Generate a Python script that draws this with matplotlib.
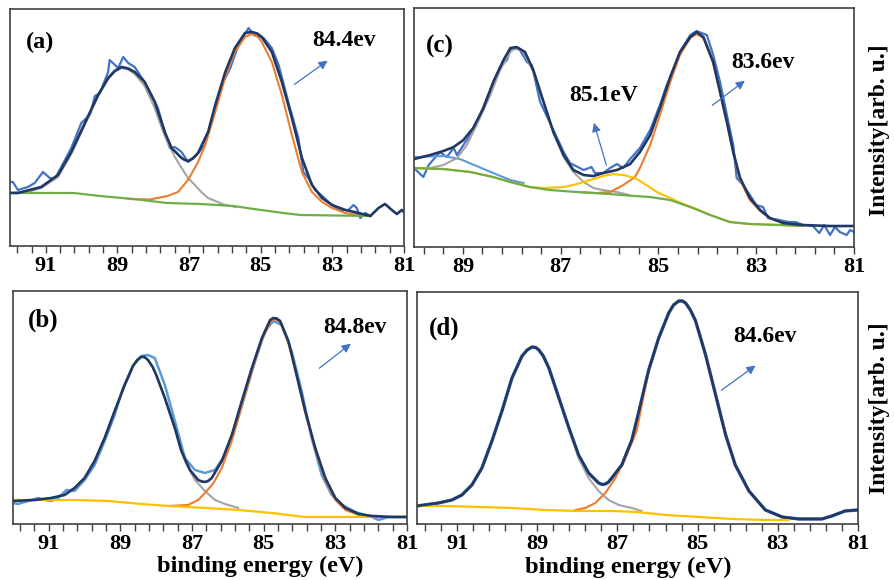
import numpy as np
import matplotlib
matplotlib.use('Agg')
import matplotlib.pyplot as plt

plt.rcParams['font.family'] = ['Liberation Serif', 'DejaVu Serif']
plt.rcParams['font.weight'] = 'bold'
plt.rcParams['lines.solid_joinstyle'] = 'round'

#cores (paleta do excel)
navy = '#1f3864'
raw_blue = '#4472c4'
light_blue = '#5b9bd5'
gray = '#a5a5a5'
orange = '#ed7d31'
green = '#70ad47'
yellow = '#ffc000'

# ---------------- dados (a) ----------------
a_raw_x = [92.0, 91.92, 91.78, 91.5, 91.31, 91.08, 90.89, 90.75, 90.57, 90.29, 90.01, 89.77, 89.63, 89.49,
           89.26, 89.22, 88.98, 88.84, 88.7, 88.52, 88.28, 88.05, 87.87, 87.68, 87.54, 87.4, 87.21, 87.03,
           86.84, 86.56, 86.27, 86.09, 85.85, 85.62, 85.34, 85.2, 84.92, 84.69, 84.5, 84.23, 83.95, 83.81,
           83.67, 83.48, 83.25, 83.11, 82.83, 82.55, 82.41, 82.32, 82.22, 82.08, 81.94]
a_raw_y = [64, 64, 56, 59, 63, 74, 68, 67, 79, 98, 123, 131, 150, 153, 174, 186, 178, 189, 183, 179,
           166, 151, 138, 114, 98, 99, 94, 84, 89, 101, 138, 161, 178, 201, 218, 211, 208, 198, 181, 144,
           108, 74, 68, 56, 49, 44, 36, 36, 41, 38, 28, 33, 30]
a_fit_x = [92.0, 91.78, 91.13, 90.66, 90.29, 89.91, 89.54, 89.26, 89.08, 88.89, 88.7, 88.52, 88.24, 87.96,
           87.68, 87.49, 87.21, 87.12, 87.03, 86.9, 86.75, 86.47, 86.27, 85.99, 85.72, 85.44, 85.25, 85.1,
           84.97, 84.69, 84.41, 84.13, 83.85, 83.57, 83.29, 83.01, 82.64, 82.27, 81.94, 81.71, 81.53, 81.34,
           81.2, 81.06, 81.0]
a_fit_y = [53, 53, 59, 71, 94, 123, 151, 168, 175, 179, 177.5, 174, 164, 144, 114, 98, 88, 86, 85, 87.5,
           93, 114, 141, 174, 198, 213, 214, 212.5, 209, 194, 164, 128, 88, 61, 48, 41, 36, 33, 30, 38,
           42, 36, 32, 36, 34]
a_p1_x = [92.0, 91.5, 91.13, 90.66, 90.29, 89.91, 89.54, 89.26, 89.08, 88.89, 88.7, 88.52, 88.24, 87.96,
          87.68, 87.4, 87.21, 87.03, 86.84, 86.66, 86.47, 86.27, 86.0, 85.7]
a_p1_y = [53, 54, 58, 69, 92, 121, 150, 167, 174, 178, 176.5, 172, 160, 138, 110, 89, 78, 68, 61, 54,
          48, 45, 41, 39]
a_p2_x = [88.7, 88.1, 87.6, 87.31, 87.03, 86.75, 86.55, 86.27, 85.99, 85.72, 85.44, 85.25, 85.1, 84.97,
          84.69, 84.41, 84.13, 83.85, 83.57, 83.29, 83.01, 82.64, 82.3]
a_p2_y = [47, 46.5, 50, 54, 66, 84, 101, 134, 169, 194, 209, 212, 210, 204, 184, 151, 111, 74, 54, 44,
          38, 33, 31]
a_bg_x = [92.0, 90.23, 89.49, 88.56, 87.62, 86.69, 85.76, 85.2, 84.37, 83.9, 81.94]
a_bg_y = [53, 53, 50, 47, 43, 42, 40, 37, 33, 31, 30]

# ---------------- dados (c) ----------------
c_raw_x = [90.0, 89.81, 89.7, 89.47, 89.33, 89.19, 89.12, 88.95, 88.82, 88.65, 88.44, 88.24, 88.1, 88.03,
           87.86, 87.69, 87.59, 87.42, 87.15, 86.94, 86.81, 86.61, 86.53, 86.37, 86.3, 86.13, 85.99, 85.85,
           85.72, 85.58, 85.38, 85.17, 84.97, 84.83, 84.76, 84.56, 84.35, 84.22, 84.01, 83.88, 83.74, 83.6,
           83.47, 83.4, 83.27, 83.13, 83.0, 82.86, 82.76, 82.53, 82.33, 82.19, 82.04, 81.84, 81.71, 81.61,
           81.49, 81.39, 81.29, 81.15, 81.08, 81.0]
c_raw_y = [79, 70, 82, 95, 90, 99, 92, 105, 114, 132, 157, 180, 187, 197, 199, 185, 182, 145, 117, 95,
           84, 79, 77, 80, 74, 74, 79, 83, 79, 88, 99, 117, 142, 162, 169, 195, 212, 216, 212, 192,
           165, 132, 102, 69, 62, 52, 42, 40, 29, 27, 25, 25, 22, 21, 14, 22, 12, 20, 15, 12, 17, 15]
c_fit_x = [90.0, 89.67, 89.4, 89.19, 88.99, 88.79, 88.58, 88.38, 88.17, 88.03, 87.9, 87.73, 87.56, 87.35,
           87.15, 86.94, 86.74, 86.53, 86.33, 86.13, 85.85, 85.58, 85.38, 85.17, 84.97, 84.76, 84.56, 84.35,
           84.22, 84.08, 83.88, 83.74, 83.6, 83.47, 83.33, 83.13, 82.92, 82.72, 82.45, 82.04, 81.49, 81.0]
c_fit_y = [88, 92, 96, 100, 107, 119, 139, 165, 187, 199, 200, 195, 177, 145, 115, 92, 77, 72, 71, 74,
           77, 83, 95, 112, 139, 170, 195, 210, 215, 210, 185, 155, 125, 95, 69, 49, 37, 29, 24, 22, 21, 21]
c_p1_x = [89.9, 89.67, 89.4, 89.12, 88.92, 88.72, 88.44, 88.24, 88.03, 87.93, 87.76, 87.56, 87.35, 87.15,
          86.94, 86.74, 86.53, 86.33, 86.13, 85.85, 85.6]
c_p1_y = [79, 79, 82, 89, 102, 122, 152, 177, 195, 199, 195, 175, 145, 115, 90, 75, 65, 59, 57, 55, 52]
c_p2_x = [86.6, 86.27, 85.99, 85.72, 85.48, 85.38, 85.17, 84.97, 84.76, 84.56, 84.35, 84.22, 84.08, 83.88,
          83.74, 83.6, 83.47, 83.33, 83.13, 82.92, 82.72, 82.45]
c_p2_y = [55, 54, 55, 62, 70, 79, 102, 132, 165, 192, 209, 213, 209, 184, 154, 124, 94, 67, 47, 36, 29, 24]
c_p3_x = [90.0, 89.4, 88.85, 88.38, 88.03, 87.63, 87.34, 86.93, 86.67, 86.4, 86.13, 85.92, 85.72, 85.48,
          85.31, 85.03, 84.76, 84.49, 84.22, 83.94, 83.54, 83.13, 82.51, 82.04]
c_p3_y = [79, 78, 75, 70, 65, 60, 59, 60, 63, 67, 71, 73, 72, 69, 64, 55, 49, 43, 38, 32, 25, 23, 22, 21]
c_p4_x = [89.98, 89.4, 89.06, 88.72, 88.38, 88.03, 87.76]
c_p4_y = [90, 91, 88, 81, 74, 67, 64]
c_bg_x = [90.0, 89.4, 88.85, 88.38, 88.03, 87.63, 87.22, 86.67, 85.99, 85.48, 85.17, 84.76, 84.35, 83.94,
          83.54, 83.13, 82.51, 82.04]
c_bg_y = [79, 78, 75, 70, 65, 60, 57, 55, 53, 51, 50, 47, 40, 32, 25, 23, 22, 21]

# ---------------- dados (b) ----------------
b_raw_x = [92.0, 91.86, 91.58, 91.3, 91.11, 90.93, 90.74, 90.51, 90.28, 90.0, 89.72, 89.44, 89.16, 88.93,
           88.65, 88.42, 88.23, 88.04, 87.76, 87.48, 87.2, 86.92, 86.64, 86.36, 86.08, 85.8, 85.52, 85.24,
           84.96, 84.73, 84.5, 84.22, 83.94, 83.66, 83.38, 83.1, 82.81, 82.44, 81.98, 81.79, 81.51, 81.0]
b_raw_y = [21, 20, 23, 26, 24, 23, 26, 34, 33, 44, 59, 83, 109, 136, 158, 168, 169, 166, 139, 103,
           66, 54, 51, 54, 69, 96, 129, 163, 193, 203, 199, 173, 133, 86, 49, 29, 19, 12, 7, 4, 7, 7]
b_fit_x = [92.0, 91.39, 90.93, 90.56, 90.28, 90.0, 89.72, 89.44, 89.16, 88.88, 88.65, 88.53, 88.42, 88.33,
           88.23, 88.1, 88.0, 87.76, 87.48, 87.3, 87.06, 86.83, 86.73, 86.64, 86.55, 86.45, 86.17, 85.89,
           85.61, 85.33, 85.05, 84.82, 84.73, 84.64, 84.54, 84.31, 84.08, 83.84, 83.56, 83.28, 83.0, 82.72,
           82.35, 81.98, 81.42, 81.0]
b_fit_y = [23, 24, 26, 29, 36, 46, 63, 86, 113, 139, 158, 164, 167, 167, 164, 157, 149, 126, 96, 73,
           54, 44, 42.5, 42, 43, 46, 63, 89, 123, 156, 186, 204, 206, 205.5, 203, 183, 149, 113, 76, 46,
           26, 16, 10, 8, 7, 7]
b_p1_x = [92.0, 91.39, 90.93, 90.56, 90.28, 90.0, 89.72, 89.44, 89.16, 88.88, 88.65, 88.53, 88.42, 88.33,
          88.23, 88.1, 88.0, 87.76, 87.48, 87.2, 86.92, 86.64, 86.36, 86.08, 85.71]
b_p1_y = [23, 24, 26, 29, 36, 46, 63, 86, 113, 139, 158, 164, 167, 167, 164, 157, 149, 126, 95, 63,
          44, 33, 24, 20, 16]
b_p2_x = [87.67, 87.11, 86.83, 86.64, 86.4, 86.17, 85.89, 85.61, 85.33, 85.05, 84.78, 84.66, 84.54, 84.31,
          84.08, 83.84, 83.56, 83.28, 83.0, 82.72, 82.35]
b_p2_y = [18, 19, 24, 31, 41, 56, 83, 118, 153, 184, 204, 204.5, 202, 181, 148, 111, 74, 44, 24, 14, 9]
b_bg_x = [92.0, 91.21, 90.28, 89.35, 88.42, 87.67, 86.6, 85.71, 84.78, 83.85, 82.91, 81.98, 81.0]
b_bg_y = [24, 24, 24, 23, 20, 18, 16, 14, 11, 7, 7, 7, 7]

# ---------------- dados (d) ----------------
d_fit_x = [92.0, 91.46, 91.13, 90.88, 90.63, 90.38, 90.13, 89.88, 89.63, 89.38, 89.25, 89.13, 89.04, 88.96,
           88.85, 88.71, 88.46, 88.21, 87.97, 87.72, 87.47, 87.38, 87.3, 87.22, 87.14, 86.89, 86.64, 86.48,
           86.22, 85.97, 85.72, 85.6, 85.47, 85.38, 85.3, 85.18, 85.05, 84.8, 84.55, 84.3, 84.06, 83.72,
           83.31, 82.89, 82.48, 81.9, 81.65, 81.32, 81.0]
d_fit_y = [18, 21, 24, 29, 39, 56, 83, 113, 146, 168, 174, 177, 176.5, 174, 168, 156, 126, 96, 69, 51,
           41, 39.5, 40, 42, 46, 59, 84, 110, 154, 186, 211, 219, 223, 223, 221, 214, 203, 169, 129, 89,
           59, 33, 14, 7, 5, 5, 8, 13, 14]
d_p1_x = [92.0, 91.46, 91.13, 90.88, 90.63, 90.38, 90.13, 89.88, 89.63, 89.38, 89.25, 89.13, 89.04, 88.96,
          88.85, 88.71, 88.46, 88.21, 87.97, 87.72, 87.47, 87.22, 86.97, 86.64, 86.4]
d_p1_y = [18, 21, 24, 29, 39, 56, 83, 113, 146, 168, 174, 177, 176.5, 174, 168, 156, 126, 95, 66, 46,
          33, 24, 19, 16, 13]
d_p2_x = [88.05, 87.8, 87.55, 87.3, 87.05, 86.8, 86.52, 86.22, 85.97, 85.72, 85.6, 85.47, 85.38, 85.3,
          85.18, 85.05, 84.8, 84.55, 84.3, 84.06, 83.72, 83.31]
d_p2_y = [14, 16, 21, 31, 46, 66, 93, 154, 186, 211, 219, 223, 223, 221, 214, 203, 169, 129, 89, 59, 33, 14]
d_bg_x = [92.0, 91.29, 90.46, 89.63, 88.8, 87.97, 87.14, 86.52, 85.8, 84.97, 84.14, 83.31, 82.73]
d_bg_y = [18, 18, 17, 16, 14, 13, 13, 12, 9, 7, 5, 4, 4]

fig = plt.figure(figsize=(8.95, 5.8), dpi=100)


def base_axes(rect, left_lim, top, majors):
    ax = fig.add_axes(rect)
    ax.set_xlim(left_lim, 81)  # eixo invertido
    ax.set_ylim(0, top)
    ax.set_yticks([])
    ax.set_xticks(majors)
    ax.set_xticklabels([str(m) for m in majors], fontweight='bold')
    ax.set_xticks(np.arange(81, left_lim + 0.01, 0.4), minor=True)
    ax.tick_params(axis='x', which='both', direction='out', length=5, width=1,
                   color='#404040', pad=2, labelsize=16)
    for s in ax.spines.values():
        s.set_color('#404040')
        s.set_linewidth(1.2)
    return ax


def arrow(ax, tail, head):
    ax.annotate('', xy=head, xytext=tail, xycoords='axes fraction', textcoords='axes fraction',
                arrowprops=dict(arrowstyle='-|>', color=raw_blue, lw=0.9, mutation_scale=13))


def label(ax, x, y, s, size=17):
    ax.text(x, y, s, transform=ax.transAxes, ha='center', va='center',
            fontsize=size, fontweight='bold')


# painel (a)
ax = base_axes([0.0112, 0.5759, 0.4402, 0.4086], 92, 237, [91, 89, 87, 85, 83, 81])
ax.plot(a_raw_x, a_raw_y, color=raw_blue, lw=1.6)
ax.plot(a_p1_x, a_p1_y, color=gray, lw=1.5)
ax.plot(a_p2_x, a_p2_y, color=orange, lw=1.5)
ax.plot(a_bg_x, a_bg_y, color=green, lw=1.6)
ax.plot(a_fit_x, a_fit_y, color=navy, lw=1.9)
label(ax, 0.076, 0.857, '(a)', 17.5)
label(ax, 0.849, 0.869, '84.4ev')
arrow(ax, (0.716, 0.675), (0.812, 0.789))

# painel (c)
ax = base_axes([0.4626, 0.5741, 0.4916, 0.412], 90, 239, [89, 87, 85, 83, 81])
ax.plot(c_raw_x, c_raw_y, color=raw_blue, lw=1.6)
ax.plot(c_p4_x, c_p4_y, color=light_blue, lw=1.5)
ax.plot(c_p1_x, c_p1_y, color=gray, lw=1.5)
ax.plot(c_p2_x, c_p2_y, color=orange, lw=1.5)
ax.plot(c_p3_x, c_p3_y, color=yellow, lw=1.5)
ax.plot(c_bg_x, c_bg_y, color=green, lw=1.6)
ax.plot(c_fit_x, c_fit_y, color=navy, lw=1.9)
label(ax, 0.059, 0.841, '(c)', 18)
label(ax, 0.792, 0.774, '83.6ev')
label(ax, 0.432, 0.636, '85.1eV')
arrow(ax, (0.673, 0.586), (0.757, 0.703))
arrow(ax, (0.439, 0.331), (0.407, 0.531))

# painel (b)
ax = base_axes([0.0145, 0.0966, 0.4402, 0.4017], 92, 233, [91, 89, 87, 85, 83, 81])
ax.plot(b_raw_x, b_raw_y, color=light_blue, lw=1.8)
ax.plot(b_p1_x, b_p1_y, color=gray, lw=1.5)
ax.plot(b_p2_x, b_p2_y, color=orange, lw=1.5)
ax.plot(b_bg_x, b_bg_y, color=yellow, lw=1.6)
ax.plot(b_fit_x, b_fit_y, color=navy, lw=1.9)
label(ax, 0.076, 0.876, '(b)', 18)
label(ax, 0.869, 0.845, '84.8ev')
arrow(ax, (0.772, 0.661), (0.863, 0.781))

# painel (d)
ax = base_axes([0.4659, 0.0966, 0.4927, 0.4], 92, 232, [91, 89, 87, 85, 83, 81])
ax.plot(d_fit_x, d_fit_y, color=raw_blue, lw=2.4)  # dados brutos quase iguais ao ajuste
ax.plot(d_p1_x, d_p1_y, color=gray, lw=1.5)
ax.plot(d_p2_x, d_p2_y, color=orange, lw=1.5)
ax.plot(d_bg_x, d_bg_y, color=yellow, lw=1.6)
ax.plot(d_fit_x, d_fit_y, color=navy, lw=1.9)
label(ax, 0.061, 0.845, '(d)', 18)
label(ax, 0.79, 0.806, '84.6ev')
arrow(ax, (0.685, 0.569), (0.773, 0.69))

# rotulos dos eixos
for yc in [130, 408]:
    fig.text(880 / 895, 1 - yc / 580, 'Intensity[arb. u.]', rotation=90, ha='center', va='center',
             fontsize=17, fontweight='bold')
fig.text(260 / 895, 1 - 566 / 580, 'binding energy (eV)', ha='center', va='center',
         fontsize=17.5, fontweight='bold')
fig.text(628 / 895, 1 - 567 / 580, 'binding energy (eV)', ha='center', va='center',
         fontsize=17.5, fontweight='bold')

fig.savefig('out.png', dpi=100)
